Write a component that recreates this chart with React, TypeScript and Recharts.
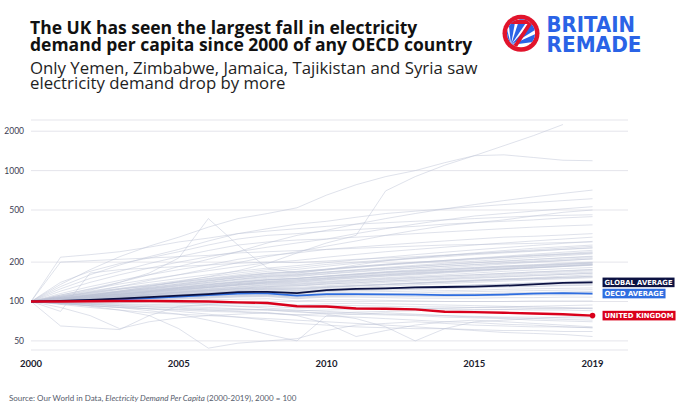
import React from 'react';
import { LineChart, Line, XAxis, YAxis, CartesianGrid } from 'recharts';

const years = [2000, 2001, 2002, 2003, 2004, 2005, 2006, 2007, 2008, 2009, 2010, 2011, 2012, 2013, 2014, 2015, 2016, 2017, 2018, 2019];

const ukValues = [100, 100, 100.5, 101, 101, 100.5, 100, 98.5, 97.5, 92, 91.5, 88.5, 88, 87, 83.5, 83, 82, 81, 80, 78];
const globalValues = [100, 101, 103, 105, 108, 111, 114, 118, 118.5, 116, 122, 125, 126, 128, 129, 130, 132, 135, 139, 140];
const oecdValues = [100, 100.5, 102, 104, 106, 109, 112, 115, 115.5, 111, 114, 114, 113.5, 113, 112, 112, 113, 115, 116, 115];

const upperLines: (number | null)[][] = [
  [100, 105, 112, 120, 130, 142, 155, 172, 195, 235, 280, 320, 700, 900, 1100, 1300, 1550, 1850, 2250, null],
  [100, 135, 175, 220, 265, 310, 370, 430, 470, 520, 650, 780, 900, 1000, 1150, 1300, 1320, 1260, 1200, 1190],
  [100, 110, 122, 140, 165, 215, 430, 270, 180, 165, 175, 190, 205, 215, 225, 235, 245, 255, 262, 270],
  [100, 218, 228, 240, 260, 285, 305, 330, 345, 360, 375, 390, 400, 410, 420, 430, 440, 450, 455, 460],
  [100, 112, 125, 140, 160, 185, 210, 240, 280, 320, 350, 390, 430, 470, 510, 550, 590, 630, 670, 710],
  [100, 130, 160, 190, 220, 250, 290, 330, 360, 390, 410, 440, 470, 490, 510, 530, 550, 570, 590, 610],
  [100, 120, 140, 160, 180, 200, 220, 240, 260, 280, 300, 330, 360, 390, 420, 450, 470, 490, 510, 530],
  [100, 108, 118, 130, 145, 160, 178, 198, 220, 240, 265, 290, 320, 350, 380, 400, 420, 450, 480, 500],
  [100, 140, 170, 195, 215, 240, 270, 300, 320, 330, 345, 355, 365, 375, 390, 400, 410, 420, 435, 445],
  [100, 125, 150, 170, 195, 220, 245, 270, 285, 295, 300, 310, 320, 330, 340, 350, 360, 370, 378, 385],
  [100, 115, 130, 145, 160, 175, 190, 210, 225, 235, 250, 260, 270, 280, 290, 300, 310, 315, 322, 330],
  [100, 200, 205, 210, 215, 220, 225, 235, 240, 245, 250, 255, 260, 265, 270, 272, 275, 278, 282, 285],
  [100, 84, 165, 175, 180, 185, 190, 196, 200, 198, 204, 210, 215, 220, 226, 232, 238, 244, 250, 256],
];

const bandLines: number[][] = [
  [100, 103, 107, 111, 116, 121, 127, 133, 138, 140, 146, 151, 156, 160, 165, 170, 175, 180, 185, 190],
  [100, 104, 109, 114, 120, 127, 134, 141, 147, 150, 157, 163, 169, 175, 181, 187, 193, 199, 205, 212],
  [100, 102, 104, 106, 109, 112, 115, 118, 120, 119, 123, 125, 127, 129, 131, 133, 135, 137, 139, 141],
  [100, 105, 111, 118, 126, 134, 143, 152, 160, 165, 174, 182, 190, 198, 206, 214, 222, 230, 238, 246],
  [100, 101, 103, 105, 107, 110, 112, 115, 117, 115, 119, 121, 122, 124, 126, 127, 129, 130, 132, 133],
  [100, 106, 112, 118, 123, 129, 136, 141, 147, 151, 156, 162, 168, 172, 176, 181, 186, 190, 194, 198],
  [100, 98, 101, 104, 108, 112, 117, 121, 125, 122, 128, 132, 135, 138, 141, 145, 148, 150, 153, 156],
  [100, 103, 106, 110, 113, 117, 121, 125, 127, 126, 130, 133, 136, 139, 143, 146, 149, 152, 156, 160],
  [100, 107, 115, 124, 132, 141, 150, 160, 170, 176, 186, 196, 205, 213, 220, 228, 235, 242, 250, 258],
  [100, 102, 105, 108, 110, 113, 116, 119, 121, 118, 122, 124, 126, 125, 127, 128, 130, 131, 133, 135],
  [100, 104, 108, 112, 117, 122, 128, 133, 137, 136, 141, 146, 150, 153, 157, 160, 164, 168, 171, 175],
  [100, 101, 102, 104, 105, 107, 109, 111, 112, 108, 111, 112, 112, 113, 113, 114, 115, 116, 117, 118],
  [100, 105, 109, 114, 119, 124, 129, 135, 141, 144, 150, 155, 161, 166, 170, 175, 180, 185, 189, 193],
  [100, 99, 100, 102, 103, 105, 107, 109, 110, 106, 109, 110, 110, 109, 109, 110, 111, 112, 112, 113],
  [100, 106, 113, 120, 128, 136, 145, 154, 163, 168, 176, 185, 193, 200, 205, 212, 218, 224, 230, 236],
  [100, 103, 107, 111, 116, 120, 125, 130, 135, 138, 143, 147, 152, 156, 160, 165, 170, 174, 178, 182],
  [100, 108, 117, 125, 133, 141, 149, 157, 165, 170, 176, 183, 190, 196, 202, 209, 216, 222, 228, 234],
  [100, 102, 104, 107, 110, 113, 116, 120, 123, 121, 125, 128, 131, 134, 137, 140, 143, 146, 149, 152],
  [100, 97, 98, 100, 102, 104, 106, 108, 109, 105, 108, 108, 107, 106, 106, 106, 107, 107, 108, 108],
  [100, 104, 109, 115, 121, 128, 135, 143, 150, 155, 162, 168, 174, 180, 186, 192, 198, 204, 210, 216],
  [100, 101, 103, 104, 106, 108, 110, 112, 113, 110, 113, 114, 115, 116, 118, 119, 120, 121, 122, 123],
  [100, 109, 118, 126, 135, 144, 154, 165, 175, 182, 192, 200, 208, 216, 224, 232, 240, 248, 256, 264],
  [100, 103, 105, 108, 111, 114, 118, 121, 124, 124, 128, 131, 134, 137, 140, 143, 146, 149, 151, 154],
  [100, 99, 101, 103, 106, 108, 111, 114, 116, 113, 116, 118, 119, 120, 121, 122, 124, 125, 126, 127],
  [100, 105, 110, 116, 122, 128, 134, 140, 146, 150, 156, 161, 167, 172, 177, 182, 187, 191, 196, 200],
  [100, 102, 106, 109, 113, 117, 121, 126, 130, 131, 136, 139, 143, 147, 150, 154, 158, 161, 164, 168],
  [100, 110, 120, 130, 140, 150, 160, 170, 180, 188, 198, 208, 218, 228, 238, 248, 258, 268, 278, 288],
  [100, 96, 97, 98, 100, 101, 103, 104, 105, 101, 103, 103, 102, 101, 100, 100, 100, 101, 101, 101],
  [100, 104, 107, 111, 115, 118, 122, 126, 130, 132, 136, 139, 143, 146, 149, 152, 155, 158, 161, 164],
  [100, 107, 114, 121, 128, 136, 144, 152, 158, 162, 168, 174, 180, 186, 192, 198, 204, 210, 216, 222],
  [100, 103, 108, 113, 119, 126, 132, 139, 146, 149, 155, 160, 166, 170, 175, 179, 184, 188, 192, 196],
  [100, 102, 105, 109, 113, 118, 123, 128, 132, 133, 138, 142, 146, 150, 153, 157, 161, 165, 168, 172],
  [100, 104, 110, 117, 124, 132, 140, 148, 156, 160, 168, 175, 182, 189, 196, 203, 210, 217, 224, 231],
  [100, 101, 104, 107, 109, 112, 115, 117, 119, 116, 120, 123, 125, 128, 130, 133, 135, 138, 140, 143],
  [100, 106, 111, 116, 121, 126, 131, 137, 142, 146, 151, 156, 160, 165, 169, 173, 177, 181, 185, 189],
  [100, 105, 112, 119, 125, 131, 138, 146, 153, 157, 163, 170, 176, 181, 186, 191, 196, 201, 206, 211],
  [100, 102, 103, 105, 108, 111, 113, 116, 118, 117, 120, 122, 124, 126, 128, 130, 132, 134, 136, 138],
  [100, 104, 108, 113, 118, 123, 128, 134, 139, 141, 147, 152, 157, 162, 167, 172, 177, 181, 186, 191],
  [100, 103, 106, 109, 112, 116, 120, 124, 128, 128, 132, 136, 140, 143, 147, 150, 154, 157, 161, 165],
  [100, 108, 116, 124, 131, 139, 147, 156, 164, 169, 177, 185, 192, 199, 206, 213, 219, 226, 232, 240],
  [100, 100, 101, 102, 104, 106, 108, 110, 111, 108, 111, 112, 113, 114, 114, 115, 116, 117, 118, 119],
  [100, 105, 110, 114, 119, 125, 131, 137, 143, 147, 152, 158, 163, 168, 173, 178, 183, 187, 192, 197],
  [100, 103, 106, 110, 114, 119, 124, 129, 134, 135, 140, 144, 148, 152, 156, 160, 164, 168, 172, 176],
  [100, 106, 112, 119, 126, 133, 140, 148, 155, 159, 166, 173, 179, 185, 191, 197, 203, 209, 215, 220],
  [100, 101, 103, 106, 108, 111, 114, 117, 119, 117, 121, 124, 126, 129, 131, 134, 136, 139, 141, 144],
  [100, 104, 109, 113, 118, 123, 129, 135, 140, 143, 149, 154, 159, 163, 168, 173, 178, 183, 187, 192],
  [100, 112, 124, 136, 148, 160, 172, 185, 198, 206, 218, 229, 240, 250, 260, 270, 280, 290, 300, 310],
  [100, 103, 105, 108, 112, 115, 119, 123, 126, 125, 129, 132, 135, 138, 141, 144, 147, 150, 153, 156],
];

const lowerLines: number[][] = [
  [100, 65, 63, 61, 78, 92, 95, 97, 98, 94, 96, 97, 96, 95, 94, 93, 92, 91, 90, 89],
  [100, 98, 92, 86, 78, 62, 44, 48, 50, 52, 60, 66, 68, 70, 68, 66, 65, 64, 64, 63],
  [100, 96, 93, 90, 85, 80, 72, 64, 56, 50, 78, 80, 82, 80, 78, 76, 75, 74, 73, 72],
  [100, 97, 95, 93, 91, 89, 86, 84, 82, 78, 68, 54, 60, 66, 70, 72, 70, 68, 66, 64],
  [100, 98, 96, 95, 93, 92, 90, 88, 86, 84, 80, 74, 64, 50, 62, 70, 72, 74, 76, 78],
  [100, 95, 90, 86, 82, 80, 78, 76, 74, 72, 70, 68, 66, 64, 62, 60, 58, 57, 56, 54],
  [100, 97, 93, 90, 88, 86, 84, 83, 81, 79, 77, 76, 74, 72, 70, 69, 67, 66, 64, 63],
  [100, 98, 96, 93, 91, 90, 88, 87, 86, 83, 82, 80, 79, 78, 76, 75, 74, 72, 71, 70],
  [100, 90, 78, 62, 70, 75, 78, 80, 82, 79, 81, 83, 84, 85, 86, 86, 87, 88, 88, 89],
  [100, 99, 97, 96, 95, 94, 93, 92, 92, 89, 90, 90, 89, 88, 88, 87, 87, 86, 86, 85],
  [100, 101, 100, 99, 98, 97, 97, 96, 95, 92, 93, 93, 92, 91, 91, 90, 90, 89, 89, 88],
  [100, 96, 93, 90, 88, 87, 86, 86, 87, 85, 86, 87, 88, 88, 89, 90, 91, 92, 93, 94],
  [100, 102, 104, 103, 101, 98, 95, 92, 89, 86, 84, 82, 80, 79, 78, 77, 76, 76, 75, 75],
  [100, 98, 95, 92, 88, 84, 80, 76, 72, 68, 66, 64, 63, 62, 62, 61, 60, 60, 59, 59],
];

const greyLines: (number | null)[][] = [...upperLines, ...bandLines, ...lowerLines];

const yTicks = [50, 100, 200, 500, 1000, 2000];
const xTicks = [2000, 2005, 2010, 2015, 2019];

const data = years.map((year, i) => {
  const row: Record<string, number | null> = {
    year,
    uk: ukValues[i],
    global: globalValues[i],
    oecd: oecdValues[i],
  };
  greyLines.forEach((s, k) => {
    row['g' + k] = s[i];
  });
  return row;
});

const RED = '#d9001b';
const NAVY = '#0c1242';
const BLUE = '#2f6ee0';
const LAST = years.length - 1;

const YTick = (props: any) => (
  <text x={24} y={props.y} dy={3} textAnchor="end" fontSize={8.5} fill="#3b3d52" fontFamily="Lato, sans-serif">
    {props.payload.value}
  </text>
);

const XTick = (props: any) => (
  <text x={props.x} y={367} textAnchor="middle" fontSize={9.5} fontWeight={700} fill="#1b1c2e" fontFamily="Lato, sans-serif">
    {props.payload.value}
  </text>
);

const endLabel = (text: string, bg: string, w: number) => (props: any) => {
  if (props.index !== LAST) return <g key={'l' + props.index} />;
  const { x, y } = props;
  return (
    <g key={'l' + props.index}>
      <rect x={x + 10} y={y - 4.8} width={w} height={9.6} fill={bg} />
      <text
        x={x + 12}
        y={y + 2.6}
        fill="#ffffff"
        fontSize={7}
        fontWeight={700}
        fontFamily="DejaVu Sans, sans-serif"
        textLength={w - 4}
        lengthAdjust="spacingAndGlyphs"
      >
        {text}
      </text>
    </g>
  );
};

const ukDot = (p: any) =>
  p.index === LAST ? <circle key="ukdot" cx={p.cx} cy={p.cy} r={2.8} fill={RED} /> : <g key={'d' + p.index} />;

const rayAngles = [-112, -88, -64, -40, -16];

const Logo = () => {
  const cx = 521;
  const cy = 33.3;
  const ox = 511;
  const oy = 45;
  return (
    <g>
      <defs>
        <clipPath id="logoClip">
          <circle cx={cx} cy={cy} r={14} />
        </clipPath>
      </defs>
      <circle cx={cx} cy={cy} r={18.5} fill="#e1142c" />
      <circle cx={cx} cy={cy} r={14} fill="#ffffff" />
      <g clipPath="url(#logoClip)">
        {rayAngles.map((a, i) => {
          const a1 = ((a - 8) * Math.PI) / 180;
          const a2 = ((a + 8) * Math.PI) / 180;
          const L = 40;
          return (
            <polygon
              key={i}
              points={`${ox},${oy} ${ox + L * Math.cos(a1)},${oy + L * Math.sin(a1)} ${ox + L * Math.cos(a2)},${oy + L * Math.sin(a2)}`}
              fill="#2a63e6"
            />
          );
        })}
        <polyline points="506,22 531,22 514,48" fill="none" stroke="#e1142c" strokeWidth={3.8} strokeLinejoin="miter" />
      </g>
      <text x={546.5} y={31.7} fontSize={22} fontWeight={800} fill="#2a63e6" fontFamily="DejaVu Sans, sans-serif" textLength={88.5} lengthAdjust="spacingAndGlyphs">
        BRITAIN
      </text>
      <text x={546.5} y={51.7} fontSize={22} fontWeight={800} fill="#2a63e6" fontFamily="DejaVu Sans, sans-serif" textLength={95} lengthAdjust="spacingAndGlyphs">
        REMADE
      </text>
    </g>
  );
};

export default function App() {
  return (
    <div style={{ position: 'absolute', left: 0, top: 0, width: 680, height: 410, background: '#ffffff', overflow: 'hidden' }}>
      <div style={{ position: 'absolute', left: 0, top: 0 }}>
        <LineChart width={680} height={410} data={data} margin={{ top: 120, right: 52, bottom: 40, left: 0 }}>
          <CartesianGrid vertical={false} stroke="#e5e5eb" strokeWidth={1} />
          <XAxis
            dataKey="year"
            type="number"
            domain={[2000, 2020.2]}
            ticks={xTicks}
            axisLine={false}
            tickLine={false}
            height={20}
            tick={XTick}
            allowDataOverflow
          />
          <YAxis
            type="number"
            scale="log"
            domain={[42.6, 2436]}
            ticks={yTicks}
            axisLine={false}
            tickLine={false}
            width={31}
            tick={YTick}
            allowDataOverflow
          />
          {greyLines.map((_, k) => (
            <Line
              key={'g' + k}
              dataKey={'g' + k}
              type="linear"
              stroke="#bcc2d4"
              strokeOpacity={0.6}
              strokeWidth={0.8}
              dot={false}
              activeDot={false}
              isAnimationActive={false}
            />
          ))}
          <Line dataKey="oecd" type="linear" stroke={BLUE} strokeWidth={1.8} dot={false} activeDot={false} isAnimationActive={false} label={endLabel('OECD AVERAGE', BLUE, 63)} />
          <Line dataKey="global" type="linear" stroke={NAVY} strokeWidth={1.8} dot={false} activeDot={false} isAnimationActive={false} label={endLabel('GLOBAL AVERAGE', NAVY, 72)} />
          <Line dataKey="uk" type="linear" stroke={RED} strokeWidth={2.4} dot={ukDot} activeDot={false} isAnimationActive={false} label={endLabel('UNITED KINGDOM', RED, 73)} />
        </LineChart>
      </div>
      <svg width={680} height={410} style={{ position: 'absolute', left: 0, top: 0, pointerEvents: 'none' }}>
        <g fontFamily="'Open Sans', sans-serif">
          <text x={30} y={34} fontSize={17.5} fontWeight={700} fill="#111111">The UK has seen the largest fall in electricity</text>
          <text x={30} y={50.5} fontSize={17.5} fontWeight={700} fill="#111111">demand per capita since 2000 of any OECD country</text>
          <text x={30} y={73.5} fontSize={16.8} fill="#1e1e1e">Only Yemen, Zimbabwe, Jamaica, Tajikistan and Syria saw</text>
          <text x={30} y={88.5} fontSize={16.8} fill="#1e1e1e">electricity demand drop by more</text>
        </g>
        <text x={9} y={401} fontSize={8} fill="#555b6b" fontFamily="Lato, sans-serif">
          Source: Our World in Data, <tspan fontStyle="italic">Electricity Demand Per Capita</tspan> (2000-2019), 2000 = 100
        </text>
        <Logo />
      </svg>
    </div>
  );
}
